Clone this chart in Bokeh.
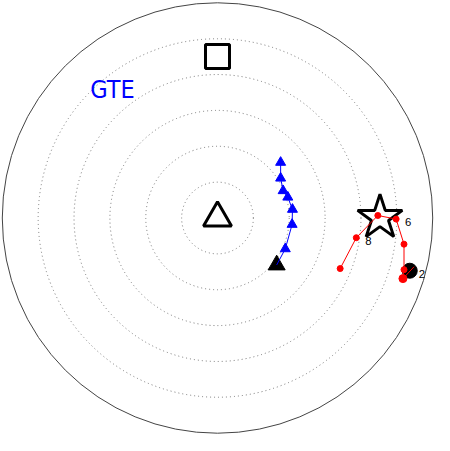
from bokeh.plotting import figure
from bokeh.models import Range1d, ColumnDataSource
from bokeh.core.properties import value
from bokeh.embed import file_html
from bokeh.resources import INLINE

# ---- data ----
ring_speeds = [10, 20, 30, 40, 50]
outer_speed = 60

blue_u = [16.5, 18.9, 20.8, 20.9, 19.6, 18.3, 17.6, 17.6]
blue_v = [-13.1, -8.6, -1.8, 2.4, 5.8, 7.6, 11.1, 15.5]

red_hours = ["2", "3", "4", "5", "6", "7", "8", "9"]
red_u = [54.8, 51.7, 52.0, 52.0, 49.8, 44.7, 38.7, 34.2]
red_v = [-13.6, -16.9, -14.4, -7.3, -0.3, 0.7, -5.5, -14.1]
red_dot_size = [0, 8, 6, 6, 6, 6, 6, 6]

start_u, start_v = [53.6], [-14.7]          # black circle (hour 2)
label_hours = ["2", "6", "8"]
label_u = [53.6, 49.8, 38.7]
label_v = [-14.7, -0.3, -5.5]

storm_u, storm_v = [45.3], [0.1]            # star
sfc_u, sfc_v = [16.5], [-13.1]              # black filled triangle
origin_u, origin_v = [0], [0]               # open triangle
top_u, top_v = [0], [45]                    # square
title_text = "GTE"
title_u, title_v = [-35.5], [35.7]

# ---- figure ----
W, H = 434, 435
half_x = 60.5
half_y = half_x * H / W
p = figure(width=W, height=H, output_backend="svg", toolbar_location=None,
           x_range=Range1d(-half_x, half_x), y_range=Range1d(-half_y, half_y),
           x_axis_location=None, y_axis_location=None, min_border=0)
p.grid.visible = False
p.outline_line_color = None
p.background_fill_color = "white"

# rings
p.circle(x=[0] * len(ring_speeds), y=[0] * len(ring_speeds), radius=ring_speeds,
         fill_color=None, line_color="#777777", line_dash="1 3", line_width=1)
p.circle(x=[0], y=[0], radius=[outer_speed], fill_color=None,
         line_color="#444444", line_width=1)

# origin open triangle and top square
p.scatter(origin_u, origin_v, marker="triangle", size=28, fill_color="white",
          line_color="black", line_width=3)
p.scatter(top_u, top_v, marker="square", size=24, fill_color="white",
          line_color="black", line_width=3)

# blue trace
p.scatter(sfc_u, sfc_v, marker="triangle", size=17, fill_color="black", line_color="black")
p.line(blue_u, blue_v, line_color="blue", line_width=1)
p.scatter(blue_u[1:], blue_v[1:], marker="triangle", size=10, fill_color="blue", line_color="blue")

# star
p.scatter(storm_u, storm_v, marker="star", size=47, fill_color="white",
          line_color="black", line_width=3)

# red trace
p.scatter(start_u, start_v, marker="circle", size=15, fill_color="black", line_color="black")
p.line(red_u, red_v, line_color="red", line_width=1)
rs = ColumnDataSource(dict(u=red_u[1:], v=red_v[1:], s=red_dot_size[1:]))
p.scatter("u", "v", source=rs, marker="circle", size="s", fill_color="red", line_color="red")

# labels
p.text(label_u, label_v, text=label_hours, x_offset=9, y_offset=3,
       text_font=value("Liberation Sans"), text_font_size="8.5pt",
       text_align="left", text_baseline="middle", text_color="black")
p.text(title_u, title_v, text=[title_text],
       text_font=value("DejaVu Sans Condensed, Liberation Sans"),
       text_font_size="25px", text_align="left", text_baseline="alphabetic", text_color="blue")

open("out.html", "w").write(file_html(p, INLINE))
